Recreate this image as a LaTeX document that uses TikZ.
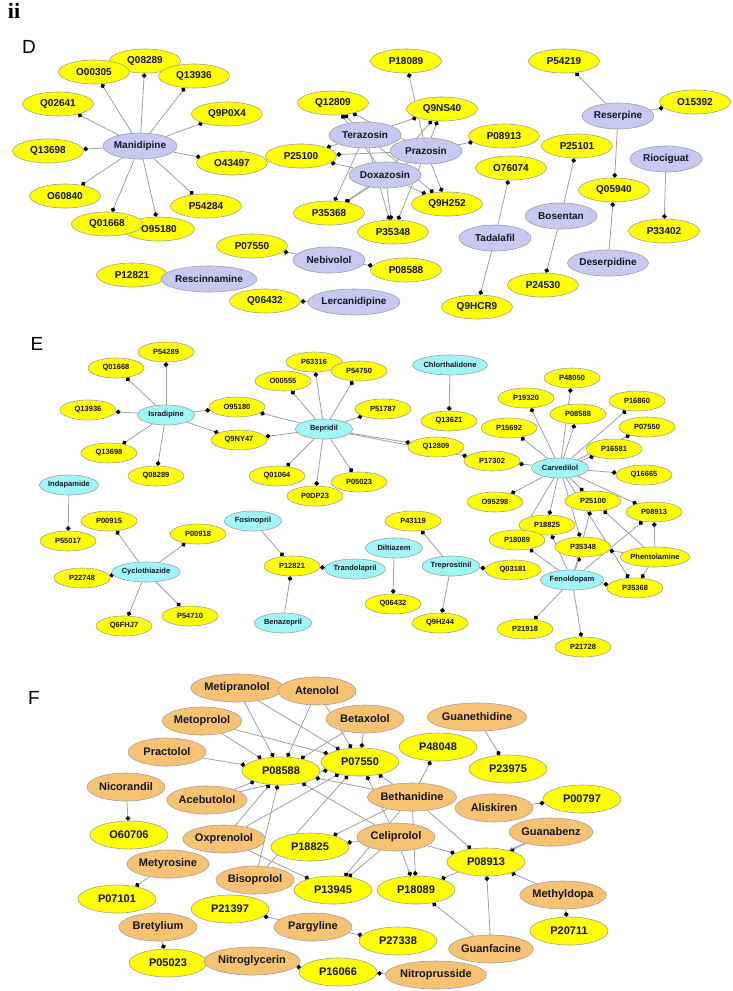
\documentclass[tikz,border=0pt]{standalone}
\usepackage{fontspec}
\setmainfont{Liberation Sans}
\newfontfamily\serifii{Liberation Serif}
\usetikzlibrary{shapes.geometric,arrows.meta,backgrounds}
\definecolor{tgt}{HTML}{FFFF00}
\definecolor{lav}{HTML}{C8C8F2}
\definecolor{cya}{HTML}{A0F5F8}
\definecolor{org}{HTML}{F7C272}
\definecolor{edg}{HTML}{A0A0A0}
\definecolor{bord}{HTML}{A0A0A0}
\definecolor{txt}{HTML}{15151F}
\tikzset{
 base/.style={ellipse, draw=bord, line width=0.6pt, inner sep=0pt, text=txt},
 dy/.style={base, fill=tgt, minimum width=71pt, minimum height=24pt, font=\bfseries\fontsize{10}{12}\selectfont},
 dd/.style={base, fill=lav, minimum width=72pt, minimum height=26pt, font=\bfseries\fontsize{10}{12}\selectfont},
 ey/.style={base, fill=tgt, minimum width=56pt, minimum height=20pt, font=\bfseries\fontsize{7.5}{9}\selectfont},
 ed/.style={base, fill=cya, minimum width=57pt, minimum height=20pt, font=\bfseries\fontsize{7.5}{9}\selectfont},
 fy/.style={base, fill=tgt, minimum width=78pt, minimum height=28pt, font=\bfseries\fontsize{11}{13}\selectfont},
 fd/.style={base, fill=org, minimum width=78pt, minimum height=28pt, font=\bfseries\fontsize{11}{13}\selectfont},
 lnk/.style={draw=edg, line width=0.8pt, -{Circle[length=4.6pt,color=black]}},
 panel/.style={font=\fontsize{19}{21}\selectfont, text=black}
}
\begin{document}
\begin{tikzpicture}[x=1pt,y=-1pt]
\useasboundingbox (0,0) rectangle (732,991);
\node[font=\serifii\bfseries\fontsize{22}{24}\selectfont] (ii) at (14,11) {ii};
\node[panel] (lD) at (29,47) {D};
\node[panel] (lE) at (37,344) {E};
\node[panel] (lF) at (34,698) {F};
% ---------------- Panel D ----------------
\node[dy] (dQ08289) at (145,61) {Q08289};
\node[dy] (dO00305) at (94,72) {O00305};
\node[dy] (dQ13936) at (194,76) {Q13936};
\node[dy] (dQ02641) at (58,104) {Q02641};
\node[dy] (dQ9P0X4) at (227,114) {Q9P0X4};
\node[dy] (dQ13698) at (48,151) {Q13698};
\node[dy] (dO43497) at (232,163) {O43497};
\node[dy] (dO60840) at (65,196) {O60840};
\node[dy] (dP54284) at (206,206) {P54284};
\node[dy] (dO95180) at (159,229) {O95180};
\node[dy] (dQ01668) at (107,224) {Q01668};
\node[dy] (dP07550) at (252,246) {P07550};
\node[dy] (dP12821) at (132,275) {P12821};
\node[dy] (dQ06432) at (265,301) {Q06432};
\node[dy] (dP18089) at (406,61) {P18089};
\node[dy] (dP54219) at (564,61) {P54219};
\node[dy] (dQ12809) at (333,103) {Q12809};
\node[dy] (dQ9NS40) at (442,109) {Q9NS40};
\node[dy] (dO15392) at (695,102) {O15392};
\node[dy] (dP08913) at (504,136) {P08913};
\node[dy] (dP25100) at (301,156) {P25100};
\node[dy] (dP25101) at (577,146) {P25101};
\node[dy] (dO76074) at (511,168) {O76074};
\node[dy] (dQ05940) at (614,190) {Q05940};
\node[dy] (dQ9H252) at (447,204) {Q9H252};
\node[dy] (dP35368) at (329,213) {P35368};
\node[dy] (dP33402) at (664,231) {P33402};
\node[dy] (dP35348) at (393,232) {P35348};
\node[dy] (dP08588) at (406,270) {P08588};
\node[dy] (dP24530) at (543,285) {P24530};
\node[dy] (dQ9HCR9) at (477,307) {Q9HCR9};
\node[dd] (dManidipine) at (140,146) {Manidipine};
\node[dd] (dRescinnamine) at (209,279) {Rescinnamine};
\node[dd] (dTerazosin) at (365,135) {Terazosin};
\node[dd] (dPrazosin) at (426,151) {Prazosin};
\node[dd] (dDoxazosin) at (385,175) {Doxazosin};
\node[dd] (dReserpine) at (618,116) {Reserpine};
\node[dd] (dRiociguat) at (666,159) {Riociguat};
\node[dd] (dBosentan) at (561,216) {Bosentan};
\node[dd] (dTadalafil) at (495,238) {Tadalafil};
\node[dd] (dNebivolol) at (329,260) {Nebivolol};
\node[dd] (dDeserpidine) at (608,263) {Deserpidine};
\node[dd] (dLercanidipine) at (354,302) {Lercanidipine};
% ---------------- Panel E ----------------
\node[ey] (eP54289) at (166,352) {P54289};
\node[ey] (eQ01668) at (116,368) {Q01668};
\node[ey] (eQ13936) at (88,410) {Q13936};
\node[ey] (eO95180) at (237,407) {O95180};
\node[ey] (eQ9NY47) at (239,440) {Q9NY47};
\node[ey] (eQ13698) at (109,453) {Q13698};
\node[ey] (eQ08289) at (156,476) {Q08289};
\node[ey] (eP00915) at (109,521) {P00915};
\node[ey] (eP55017) at (68,541) {P55017};
\node[ey] (eP00918) at (198,534) {P00918};
\node[ey] (eP22748) at (82,578) {P22748};
\node[ey] (eP54710) at (190,616) {P54710};
\node[ey] (eQ6FHJ7) at (124,626) {Q6FHJ7};
\node[ey] (eP63316) at (314,362) {P63316};
\node[ey] (eP54750) at (359,371) {P54750};
\node[ey] (eO00555) at (283,381) {O00555};
\node[ey] (eP51787) at (383,409) {P51787};
\node[ey] (eQ13621) at (449,421) {Q13621};
\node[ey] (eQ12809) at (436,447) {Q12809};
\node[ey] (eQ01064) at (277,476) {Q01064};
\node[ey] (eP05023) at (359,482) {P05023};
\node[ey] (eP0DP23) at (315,496) {P0DP23};
\node[ey] (eP43119) at (413,521) {P43119};
\node[ey] (eP12821) at (292,566) {P12821};
\node[ey] (eQ06432) at (393,604) {Q06432};
\node[ey] (eQ9H244) at (440,623) {Q9H244};
\node[ey] (eP48050) at (572,378) {P48050};
\node[ey] (eP19320) at (526,398) {P19320};
\node[ey] (eP16860) at (637,401) {P16860};
\node[ey] (eP08588) at (578,414) {P08588};
\node[ey] (eP07550) at (647,427) {P07550};
\node[ey] (eP15692) at (509,428) {P15692};
\node[ey] (eP16581) at (614,449) {P16581};
\node[ey] (eP17302) at (492,461) {P17302};
\node[ey] (eQ16665) at (644,475) {Q16665};
\node[ey] (eO95298) at (495,502) {O95298};
\node[ey] (eP25100) at (593,501) {P25100};
\node[ey] (eP08913) at (654,512) {P08913};
\node[ey] (eP18825) at (547,525) {P18825};
\node[ey] (eP18089) at (517,540) {P18089};
\node[ey] (eP35348) at (583,547) {P35348};
\node[ey] (ePhentolamine) at (655,557) {Phentolamine};
\node[ey] (eQ03181) at (513,570) {Q03181};
\node[ey] (eP35368) at (635,588) {P35368};
\node[ey] (eP21918) at (525,629) {P21918};
\node[ey] (eP21728) at (583,647) {P21728};
\node[ed] (eIsradipine) at (166,415) {Isradipine};
\node[ed] (eIndapamide) at (69,485) {Indapamide};
\node[ed] (eCyclothiazide) at (146,572) {Cyclothiazide};
\node[ed] (eBepridil) at (324,429) {Bepridil};
\node[ed] (eChlorthalidone) at (450,365) {Chlorthalidone};
\node[ed] (eFosinopril) at (253,521) {Fosinopril};
\node[ed] (eTrandolapril) at (355,569) {Trandolapril};
\node[ed] (eBenazepril) at (283,623) {Benazepril};
\node[ed] (eDiltiazem) at (394,548) {Diltiazem};
\node[ed] (eTreprostinil) at (451,566) {Treprostinil};
\node[ed] (eCarvedilol) at (560,468) {Carvedilol};
\node[ed] (eFenoldopam) at (572,580) {Fenoldopam};
% ---------------- Panel F ----------------
\node[fd] (fMetipranolol) at (237,688) {Metipranolol};
\node[fd] (fAtenolol) at (317,691) {Atenolol};
\node[fd] (fMetoprolol) at (202,721) {Metoprolol};
\node[fd] (fBetaxolol) at (365,719) {Betaxolol};
\node[fd] (fGuanethidine) at (477,717) {Guanethidine};
\node[fd] (fPractolol) at (167,752) {Practolol};
\node[fy] (fP08588) at (281,771) {P08588};
\node[fy] (fP07550) at (360,762) {P07550};
\node[fy] (fP48048) at (438,747) {P48048};
\node[fy] (fP23975) at (508,769) {P23975};
\node[fd] (fNicorandil) at (126,787) {Nicorandil};
\node[fd] (fAcebutolol) at (207,800) {Acebutolol};
\node[fd] (fBethanidine) at (412,797) {Bethanidine};
\node[fd] (fAliskiren) at (494,808) {Aliskiren};
\node[fy] (fP00797) at (582,799) {P00797};
\node[fy] (fO60706) at (129,835) {O60706};
\node[fd] (fOxprenolol) at (224,839) {Oxprenolol};
\node[fy] (fP18825) at (310,847) {P18825};
\node[fd] (fCeliprolol) at (396,837) {Celiprolol};
\node[fd] (fGuanabenz) at (551,832) {Guanabenz};
\node[fy] (fP08913) at (486,862) {P08913};
\node[fd] (fMetyrosine) at (168,864) {Metyrosine};
\node[fd] (fBisoprolol) at (255,880) {Bisoprolol};
\node[fy] (fP13945) at (333,890) {P13945};
\node[fy] (fP18089) at (416,890) {P18089};
\node[fd] (fMethyldopa) at (563,895) {Methyldopa};
\node[fy] (fP07101) at (117,899) {P07101};
\node[fy] (fP21397) at (230,909) {P21397};
\node[fd] (fPargyline) at (313,927) {Pargyline};
\node[fd] (fBretylium) at (158,927) {Bretylium};
\node[fy] (fP20711) at (569,931) {P20711};
\node[fy] (fP27338) at (398,941) {P27338};
\node[fd] (fGuanfacine) at (491,949) {Guanfacine};
\node[fy] (fP05023) at (168,963) {P05023};
\node[fd] (fNitroglycerin) at (252,961) {Nitroglycerin};
\node[fy] (fP16066) at (338,972) {P16066};
\node[fd] (fNitroprusside) at (436,975) {Nitroprusside};
% ---------------- Edges ----------------
\begin{scope}[on background layer]
\foreach \t in {Q08289,O00305,Q13936,Q02641,Q9P0X4,Q13698,O43497,O60840,P54284,Q01668,O95180}
  \draw[lnk] (dManidipine) -- (d\t);
\draw[lnk] (dRescinnamine) -- (dP12821);
\draw[lnk] (dNebivolol) -- (dP07550);
\draw[lnk] (dNebivolol) -- (dP08588);
\draw[lnk] (dLercanidipine) -- (dQ06432);
\foreach \s in {Terazosin,Prazosin,Doxazosin}
  \foreach \t in {Q12809,Q9NS40,P25100,P35368,P35348,Q9H252}
    \draw[lnk] (d\s) -- (d\t);
\draw[lnk] (dPrazosin) -- (dP08913);
\draw[lnk] (dPrazosin) -- (dP18089);
\draw[lnk] (dReserpine) -- (dP54219);
\draw[lnk] (dReserpine) -- (dO15392);
\draw[lnk] (dReserpine) -- (dQ05940);
\draw[lnk] (dDeserpidine) -- (dQ05940);
\draw[lnk] (dRiociguat) -- (dP33402);
\draw[lnk] (dBosentan) -- (dP25101);
\draw[lnk] (dBosentan) -- (dP24530);
\draw[lnk] (dTadalafil) -- (dO76074);
\draw[lnk] (dTadalafil) -- (dQ9HCR9);
% E
\foreach \t in {P54289,Q01668,Q13936,O95180,Q9NY47,Q13698,Q08289}
  \draw[lnk] (eIsradipine) -- (e\t);
\draw[lnk] (eIndapamide) -- (eP55017);
\foreach \t in {P00915,P00918,P22748,P54710,Q6FHJ7}
  \draw[lnk] (eCyclothiazide) -- (e\t);
\foreach \t in {P63316,P54750,O00555,P51787,O95180,Q9NY47,Q01064,P0DP23,P05023,Q12809,P17302}
  \draw[lnk] (eBepridil) -- (e\t);
\draw[lnk] (eChlorthalidone) -- (eQ13621);
\draw[lnk] (eFosinopril) -- (eP12821);
\draw[lnk] (eTrandolapril) -- (eP12821);
\draw[lnk] (eBenazepril) -- (eP12821);
\draw[lnk] (eDiltiazem) -- (eQ06432);
\foreach \t in {P43119,Q9H244,Q03181}
  \draw[lnk] (eTreprostinil) -- (e\t);
\foreach \t in {P48050,P19320,P08588,P16860,P07550,P16581,P15692,P17302,Q16665,O95298,P25100,P08913,P18825,P18089,P35348,P35368}
  \draw[lnk] (eCarvedilol) -- (e\t);
\foreach \t in {P18825,P18089,P35348,P08913,P35368,P21918,P21728,P25100}
  \draw[lnk] (eFenoldopam) -- (e\t);
\foreach \t in {P08913,P25100,P35348,P35368}
  \draw[lnk] (ePhentolamine) -- (e\t);
% F
\draw[lnk] (fPractolol) -- (fP08588);
\foreach \s in {Metoprolol,Metipranolol,Atenolol,Betaxolol,Acebutolol,Oxprenolol,Bisoprolol,Celiprolol,Bethanidine}{
  \draw[lnk] (f\s) -- (fP08588);
  \draw[lnk] (f\s) -- (fP07550);
}
\draw[lnk] (fOxprenolol) -- (fP13945);
\foreach \t in {P18825,P13945,P18089,P08913}
  \draw[lnk] (fCeliprolol) -- (f\t);
\foreach \t in {P48048,P18825,P13945,P18089,P08913}
  \draw[lnk] (fBethanidine) -- (f\t);
\draw[lnk] (fGuanethidine) -- (fP23975);
\draw[lnk] (fAliskiren) -- (fP00797);
\draw[lnk] (fGuanabenz) -- (fP08913);
\draw[lnk] (fGuanabenz) -- (fP18089);
\draw[lnk] (fMethyldopa) -- (fP08913);
\draw[lnk] (fMethyldopa) -- (fP20711);
\draw[lnk] (fGuanfacine) -- (fP08913);
\draw[lnk] (fGuanfacine) -- (fP18089);
\draw[lnk] (fNicorandil) -- (fO60706);
\draw[lnk] (fMetyrosine) -- (fP07101);
\draw[lnk] (fBretylium) -- (fP05023);
\draw[lnk] (fPargyline) -- (fP21397);
\draw[lnk] (fPargyline) -- (fP27338);
\draw[lnk] (fNitroglycerin) -- (fP16066);
\draw[lnk] (fNitroprusside) -- (fP16066);
\end{scope}
\end{tikzpicture}
\end{document}
